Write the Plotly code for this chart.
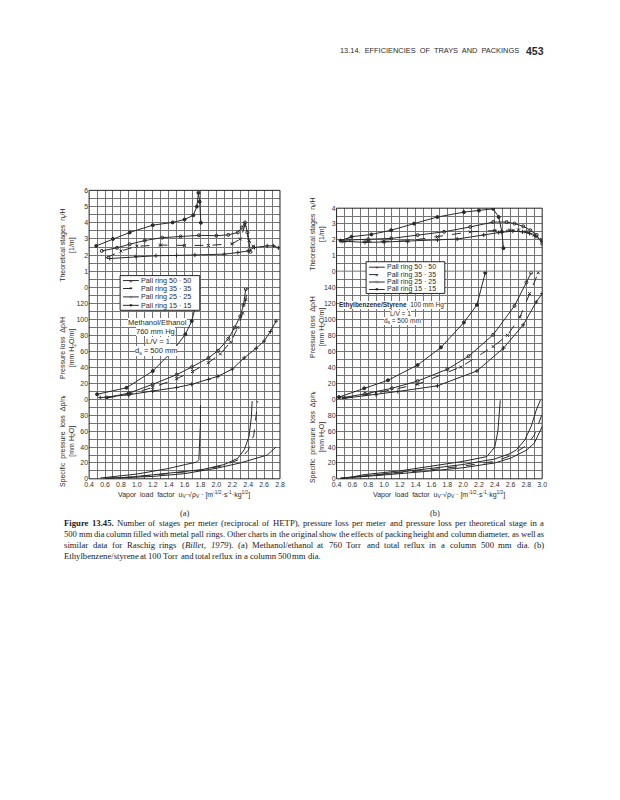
import re
import plotly.graph_objects as go

# ---------------- data ----------------
ring_labels = ["Pall ring 50 · 50", "Pall ring 35 · 35", "Pall ring 25 · 25", "Pall ring 15 · 15"]
x_ticks_a = [0.4, 0.6, 0.8, 1.0, 1.2, 1.4, 1.6, 1.8, 2.0, 2.2, 2.4, 2.6, 2.8]
x_ticks_b = [0.4, 0.6, 0.8, 1.0, 1.2, 1.4, 1.6, 1.8, 2.0, 2.2, 2.4, 2.6, 2.8, 3.0]
y_ticks_a_top = [0, 1, 2, 3, 4, 5, 6]
y_ticks_b_top = [0, 1, 2, 3, 4]
y_ticks_a_mid = [0, 20, 40, 60, 80, 100, 120]
y_ticks_b_mid = [0, 20, 40, 60, 80, 100, 120, 140]
y_ticks_bot = [0, 20, 40, 60, 80]

# (a) Methanol/Ethanol - theoretical stages per metre
a_st_x_50 = [0.66, 0.99, 1.24, 1.5, 1.73, 2.1, 2.27, 2.4, 2.48, 2.64, 2.72, 2.78]
a_st_y_50 = [1.79, 1.91, 1.96, 1.98, 2.0, 2.06, 2.16, 2.26, 2.47, 2.57, 2.57, 2.45]
a_st_x_35 = [0.62, 0.8, 1.0, 1.3, 1.6, 1.9, 2.2, 2.3, 2.36, 2.41, 2.46]
a_st_y_35 = [1.85, 2.25, 2.55, 2.62, 2.6, 2.6, 2.7, 3.0, 3.85, 2.9, 2.55]
a_st_x_25 = [0.56, 0.75, 0.91, 1.1, 1.32, 1.55, 1.78, 2.0, 2.15, 2.27, 2.32, 2.36, 2.39, 2.43]
a_st_y_25 = [2.26, 2.45, 2.67, 2.9, 3.08, 3.15, 3.22, 3.2, 3.25, 3.4, 3.7, 4.02, 3.4, 2.2]
a_st_x_15 = [0.49, 0.7, 0.91, 1.2, 1.45, 1.6, 1.71, 1.755, 1.775, 1.79, 1.805]
a_st_y_15 = [2.57, 3.0, 3.4, 3.85, 4.02, 4.2, 4.46, 5.0, 5.85, 5.3, 4.0]

# (a) pressure loss per metre
a_dp_x_50 = [0.54, 0.9, 1.2, 1.5, 1.69, 1.9, 2.02, 2.2, 2.35, 2.5, 2.6, 2.68, 2.75]
a_dp_y_50 = [2.3, 6, 10.6, 15, 19, 25, 29, 38, 52, 64, 73, 85, 98]
a_dp_x_35 = [0.62, 0.9, 1.2, 1.5, 1.7, 1.9, 2.05, 2.18, 2.27, 2.33, 2.37, 2.39]
a_dp_y_35 = [2.0, 6.5, 15, 26, 35, 46, 57, 72, 90, 108, 125, 140]
a_dp_x_25 = [0.62, 0.9, 1.2, 1.5, 1.69, 1.9, 2.02, 2.15, 2.23, 2.3, 2.34, 2.37]
a_dp_y_25 = [2.3, 8, 19, 31, 40.6, 52, 61, 76, 90, 104, 118, 138]
a_dp_x_15 = [0.5, 0.87, 1.2, 1.45, 1.61, 1.69, 1.755, 1.78]
a_dp_y_15 = [6.5, 14.7, 35.6, 60.6, 81.5, 98, 123, 140]

# (a) specific pressure loss per theoretical stage
a_sp_x_50 = [0.6, 0.9, 1.2, 1.6, 2.02, 2.3, 2.44, 2.64, 2.75]
a_sp_y_50 = [0.5, 1.5, 3, 6.5, 13.7, 20, 24, 30, 40]
a_sp_x_35 = [0.6, 0.9, 1.2, 1.5, 1.82, 2.1, 2.3, 2.4, 2.47, 2.5, 2.52]
a_sp_y_35 = [0.5, 2, 4.5, 7.5, 11, 17, 25, 36, 55, 80, 98]
a_sp_x_25 = [0.6, 0.9, 1.2, 1.5, 1.82, 2.1, 2.27, 2.35, 2.41, 2.44, 2.45]
a_sp_y_25 = [0.5, 2, 5, 8, 11.6, 18, 26, 36.6, 53, 78, 98]
a_sp_x_15 = [0.54, 0.8, 1.0, 1.2, 1.4, 1.61, 1.75, 1.78, 1.79, 1.8, 1.8]
a_sp_y_15 = [1, 3.5, 6, 9.5, 13, 18, 21, 24, 40, 70, 93]

# (b) Ethylbenzene/Styrene - theoretical stages per metre
b_st_x_50 = [0.47, 0.76, 1.0, 1.3, 1.675, 1.925, 2.26, 2.45, 2.63, 2.75, 2.84, 2.92, 3.0]
b_st_y_50 = [1.9, 1.83, 1.85, 1.9, 1.98, 2.04, 2.3, 2.45, 2.54, 2.5, 2.4, 2.2, 1.88]
b_st_x_35 = [0.5, 0.8, 1.0, 1.3, 1.675, 2.09, 2.4, 2.59, 2.7, 2.8, 2.9, 3.0]
b_st_y_35 = [1.9, 1.88, 1.9, 1.92, 2.19, 2.5, 2.58, 2.6, 2.62, 2.5, 2.3, 2.0]
b_st_x_25 = [0.55, 0.8, 1.09, 1.425, 1.76, 2.09, 2.38, 2.55, 2.65, 2.76, 2.85, 2.93, 3.0]
b_st_y_25 = [1.98, 2.02, 2.08, 2.29, 2.5, 2.81, 3.12, 3.12, 3.02, 2.85, 2.6, 2.3, 1.75]
b_st_x_15 = [0.45, 0.59, 0.84, 1.09, 1.38, 1.675, 2.01, 2.2, 2.38, 2.45, 2.49, 2.51]
b_st_y_15 = [1.94, 2.19, 2.33, 2.6, 3.02, 3.44, 3.75, 3.85, 3.96, 3.44, 2.5, 1.46]

# (b) pressure loss per metre
b_dp_x_50 = [0.5, 0.9, 1.175, 1.675, 2.175, 2.51, 2.76, 2.925, 3.0]
b_dp_y_50 = [1.5, 6, 10, 17, 35.6, 64, 93, 121.6, 132]
b_dp_x_35 = [0.5, 0.9, 1.425, 1.97, 2.38, 2.56, 2.72, 2.84, 2.95]
b_dp_y_35 = [2, 8, 19, 40.5, 66, 80, 103, 132, 158]
b_dp_x_25 = [0.46, 0.76, 1.1, 1.425, 1.8, 2.07, 2.38, 2.65, 2.8, 2.86]
b_dp_y_25 = [2, 7, 14, 23, 37.7, 54, 80.7, 116.7, 146, 158]
b_dp_x_15 = [0.43, 0.75, 1.05, 1.425, 1.72, 2.01, 2.175, 2.28]
b_dp_y_15 = [3, 14, 24, 43, 65, 96, 118, 158]

# (b) specific pressure loss per theoretical stage
b_sp_x_50 = [0.45, 0.8, 1.2, 1.6, 2.0, 2.4, 2.6, 2.8, 2.9, 3.0]
b_sp_y_50 = [0.5, 3, 6.5, 10, 14, 20, 26, 36, 45, 66]
b_sp_x_35 = [0.45, 0.8, 1.2, 1.6, 2.0, 2.4, 2.6, 2.8, 2.9, 3.0]
b_sp_y_35 = [0.5, 3.5, 7.5, 11.5, 16, 22, 29, 42, 55, 82]
b_sp_x_25 = [0.45, 0.8, 1.2, 1.6, 2.0, 2.4, 2.6, 2.675, 2.78, 2.86, 2.925, 2.98]
b_sp_y_25 = [1, 4, 8.5, 13, 18, 25, 32, 36.6, 49, 66, 86.6, 100]
b_sp_x_15 = [0.47, 0.76, 1.2, 1.59, 2.0, 2.3, 2.4, 2.44, 2.46, 2.47]
b_sp_y_15 = [0, 5.4, 10, 16, 22, 28, 40, 60, 85, 99]

caption_lines = [
    '<b>Figure</b> <b>13.45.</b> Number of stages per meter (reciprocal of HETP), pressure loss per meter and pressure loss per theoretical stage in a',
    '500 mm dia column filled with metal pall rings. Other charts in the original show the effects of packing height and column diameter, as well as',
    'similar data for Raschig rings (<i>Billet,</i> <i>1979</i>). (a) Methanol/ethanol at 760 Torr and total reflux in a column 500 mm dia. (b)',
    'Ethylbenzene/styrene at 100 Torr and total reflux in a column 500 mm dia.',
]

# ---------------- layout helpers ----------------
W, H = 620, 800
def PX(x):
    return x / W
def PY(y):
    return 1 - y / H

GRID = '#747474'
FRAME = '#222222'
INK = '#2a2a2a'
SANS = 'Liberation Sans, Arial, sans-serif'
SERIF = 'Liberation Serif, Times New Roman, serif'
TICKFONT = dict(family=SANS, size=7, color='#333333')

A_L, A_R, B_L, B_R = 85.5, 279.5, 337, 546
A_T, A_S, B_T, B_S, MB, BB = 188, 286, 206, 269.5, 399, 479
A_X = [PX(A_L), PX(A_R)]
B_X = [PX(B_L), PX(B_R)]
BOT = [PY(BB), PY(MB)]
A_MID = [PY(MB), PY(A_S)]
A_TOP = [PY(A_S), PY(A_T)]
B_MID = [PY(MB), PY(B_S)]
B_TOP = [PY(B_S), PY(B_T)]

def xax(domain, rng, anchor, labels, tickvals, match=None):
    d = dict(domain=domain, range=rng, anchor=anchor,
             tickmode='array', tickvals=tickvals,
             ticktext=['%.1f' % v for v in tickvals],
             showticklabels=labels, ticks='',
             showgrid=True, gridcolor=GRID, gridwidth=1,
             minor=dict(tickmode='linear', tick0=0.4, dtick=0.1, showgrid=True,
                        gridcolor=GRID, gridwidth=1, ticks=''),
             showline=False, zeroline=False, tickfont=TICKFONT, fixedrange=True)
    if match:
        d['matches'] = match
    return d

def yax(domain, rng, anchor, tickvals, minor_dtick):
    return dict(domain=domain, range=rng, anchor=anchor,
                tickmode='array', tickvals=tickvals,
                ticktext=[str(v) for v in tickvals], ticks='',
                showgrid=True, gridcolor=GRID, gridwidth=1,
                minor=dict(tickmode='linear', tick0=0, dtick=minor_dtick, showgrid=True,
                           gridcolor=GRID, gridwidth=1, ticks=''),
                showline=False, zeroline=False, tickfont=TICKFONT, fixedrange=True)

dashes = ['solid', 'dash', 'solid', 'solid']
symbols = ['cross-thin-open', 'x-thin-open', 'circle-open', 'circle']
glyphs = ['+', '×', '○', '●']

fig = go.Figure()

def add_group(xs, ys, xa, ya, markers):
    for i, (x, y) in enumerate(zip(xs, ys)):
        fig.add_trace(go.Scatter(
            x=x, y=y, xaxis=xa, yaxis=ya, name=ring_labels[i],
            mode='lines+markers' if markers else 'lines',
            line=dict(color=INK, width=1, dash=dashes[i]),
            marker=dict(symbol=symbols[i], size=3, color=INK, line=dict(color=INK, width=1)),
            showlegend=False, hoverinfo='skip', cliponaxis=True))

add_group([a_sp_x_50, a_sp_x_35, a_sp_x_25, a_sp_x_15],
          [a_sp_y_50, a_sp_y_35, a_sp_y_25, a_sp_y_15], 'x', 'y', False)
add_group([a_dp_x_50, a_dp_x_35, a_dp_x_25, a_dp_x_15],
          [a_dp_y_50, a_dp_y_35, a_dp_y_25, a_dp_y_15], 'x2', 'y2', True)
add_group([a_st_x_50, a_st_x_35, a_st_x_25, a_st_x_15],
          [a_st_y_50, a_st_y_35, a_st_y_25, a_st_y_15], 'x3', 'y3', True)
add_group([b_sp_x_50, b_sp_x_35, b_sp_x_25, b_sp_x_15],
          [b_sp_y_50, b_sp_y_35, b_sp_y_25, b_sp_y_15], 'x4', 'y4', False)
add_group([b_dp_x_50, b_dp_x_35, b_dp_x_25, b_dp_x_15],
          [b_dp_y_50, b_dp_y_35, b_dp_y_25, b_dp_y_15], 'x5', 'y5', True)
add_group([b_st_x_50, b_st_x_35, b_st_x_25, b_st_x_15],
          [b_st_y_50, b_st_y_35, b_st_y_25, b_st_y_15], 'x6', 'y6', True)

fig.update_layout(
    width=W, height=H, autosize=False,
    margin=dict(l=0, r=0, t=0, b=0),
    paper_bgcolor='white', plot_bgcolor='white',
    showlegend=False,
    xaxis=xax(A_X, [0.4, 2.8], 'y', True, x_ticks_a),
    xaxis2=xax(A_X, [0.4, 2.8], 'y2', False, x_ticks_a, 'x'),
    xaxis3=xax(A_X, [0.4, 2.8], 'y3', False, x_ticks_a, 'x'),
    xaxis4=xax(B_X, [0.4, 3.0], 'y4', True, x_ticks_b),
    xaxis5=xax(B_X, [0.4, 3.0], 'y5', False, x_ticks_b, 'x4'),
    xaxis6=xax(B_X, [0.4, 3.0], 'y6', False, x_ticks_b, 'x4'),
    yaxis=yax(BOT, [0, 100], 'x', y_ticks_bot, 10),
    yaxis2=yax(A_MID, [0, 140], 'x2', y_ticks_a_mid, 10),
    yaxis3=yax(A_TOP, [0, 6], 'x3', y_ticks_a_top, 0.5),
    yaxis4=yax(BOT, [0, 100], 'x4', y_ticks_bot, 10),
    yaxis5=yax(B_MID, [0, 160], 'x5', y_ticks_b_mid, 10),
    yaxis6=yax(B_TOP, [0, 4], 'x6', y_ticks_b_top, 0.5),
)

ann = []
shapes = []

# panel frames: dark outer border, inner subplot boundaries as grid lines
for (l, r, t, s) in [(A_L, A_R, A_T, A_S), (B_L, B_R, B_T, B_S)]:
    for yy in (s, MB):
        shapes.append(dict(type='line', xref='paper', yref='paper', x0=PX(l), x1=PX(r),
                           y0=PY(yy), y1=PY(yy), layer='above',
                           line=dict(color=GRID, width=1)))
    shapes.append(dict(type='rect', xref='paper', yref='paper', x0=PX(l), x1=PX(r),
                       y0=PY(BB), y1=PY(t), layer='above',
                       line=dict(color=FRAME, width=1)))

def text(x, y, s, size=7, family=SANS, color=INK, xanchor='center', angle=0, bg=None):
    d = dict(x=PX(x), y=PY(y), xref='paper', yref='paper', text=s, showarrow=False,
             font=dict(family=family, size=size, color=color), xanchor=xanchor,
             yanchor='middle', textangle=angle, align='center', borderpad=0, borderwidth=0)
    if bg:
        d['bgcolor'] = bg
    ann.append(d)

# y-axis titles (two lines, rotated)
for x0, ys in [(64, [(243, 'Theoretical stages  n<sub>t</sub>/H<br>[1/m]'),
                     (347, 'Pressure loss  Δp/H<br>[mm H<sub>2</sub>O/m]'),
                     (441, 'Specific  pressure  loss  Δp/n<sub>t</sub><br>[mm H<sub>2</sub>O]')]),
               (318, [(232, 'Theoretical stages  n<sub>t</sub>/H<br>[1/m]'),
                      (326, 'Pressure loss  Δp/H<br>[mm H<sub>2</sub>O/m]'),
                      (437, 'Specific  pressure  loss  Δp/n<sub>t</sub><br>[mm H<sub>2</sub>O]')])]:
    for yy, s in ys:
        text(x0, yy, s, size=7, angle=-90)

# x-axis titles and panel labels
xtitle = 'Vapor  load  factor  u<sub>V</sub>·√ρ<sub>V</sub> · [m<sup>-1/2</sup>·s<sup>-1</sup>·kg<sup>1/2</sup>]'
text(182, 495, xtitle, size=7)
text(441, 495, xtitle, size=7)
text(183, 513, '(a)', size=8.5, family=SERIF)
text(437, 513, '(b)', size=8.5, family=SERIF)

# legends (drawn as boxes with sample lines)
def legend_box(x0, x1, y0, y1, rows, lx0, lx1, tx, fs):
    shapes.append(dict(type='rect', xref='paper', yref='paper', x0=PX(x0), x1=PX(x1),
                       y0=PY(y1), y1=PY(y0), fillcolor='white',
                       line=dict(color=FRAME, width=1), layer='above'))
    for i, ry in enumerate(rows):
        shapes.append(dict(type='line', xref='paper', yref='paper', x0=PX(lx0), x1=PX(lx1),
                           y0=PY(ry), y1=PY(ry), layer='above',
                           line=dict(color=INK, width=1, dash=dashes[i])))
        text((lx0 + lx1) / 2, ry, glyphs[i], size=6)
        text(tx, ry, ring_labels[i], size=fs, xanchor='left')

legend_box(117, 198, 274, 309, [279, 287, 295.5, 304], 120, 136, 138, 7.2)
legend_box(367, 447, 260, 292, [265.5, 273, 280.5, 288], 370, 386, 388, 7.0)

# system annotations
text(155, 321, 'Methanol/Ethanol', size=7.5, bg='white')
text(153, 330, '760 mm Hg', size=7.5, bg='white')
text(155, 340, 'L/V = 1', size=7.5, bg='white')
text(153, 350, 'd<sub>s</sub> = 500 mm', size=7.5, bg='white')
text(339, 304, '<b>Ethylbenzene/Styrene</b>  100 mm Hg', size=6.5, bg='white', xanchor='left')
text(402, 312.5, 'L/V = 1', size=6.5, bg='white')
text(404, 320, 'd<sub>s</sub> = 500 mm', size=6.5, bg='white')

# page header
text(522, 47, '13.14.  EFFICIENCIES  OF  TRAYS  AND  PACKINGS', size=7.4, xanchor='right')
text(548, 47, '<b>453</b>', size=10.5, xanchor='right')

# caption: justified with Times (Liberation Serif) advance widths
TW = {' ': 250, '!': 333, '(': 333, ')': 333, ',': 250, '-': 333, '.': 250, '/': 278,
      ':': 278, ';': 278, 'A': 722, 'B': 667, 'C': 667, 'D': 722, 'E': 611, 'F': 556,
      'G': 722, 'H': 722, 'I': 333, 'J': 389, 'K': 722, 'L': 611, 'M': 889, 'N': 722,
      'O': 722, 'P': 556, 'Q': 722, 'R': 667, 'S': 556, 'T': 611, 'U': 722, 'V': 722,
      'W': 944, 'X': 722, 'Y': 722, 'Z': 611, 'a': 444, 'b': 500, 'c': 444, 'd': 500,
      'e': 444, 'f': 333, 'g': 500, 'h': 500, 'i': 278, 'j': 278, 'k': 500, 'l': 278,
      'm': 778, 'n': 500, 'o': 500, 'p': 500, 'q': 500, 'r': 333, 's': 389, 't': 278,
      'u': 500, 'v': 500, 'w': 722, 'x': 500, 'y': 500, 'z': 444}
def tw(word, size):
    plain = re.sub('<[^>]+>', '', word)
    bold = word.startswith('<b>')
    w = 0
    for ch in plain:
        c = TW.get(ch, 500)
        if bold and ch.islower():
            c += 40
        w += c
    return w * size / 1000.0

CAP_SIZE = 8.7
CAP_L, CAP_R = 60, 548
MIN_GAP = 2.0
for li, line in enumerate(caption_lines):
    words = line.split(' ')
    size = CAP_SIZE
    natural = sum(tw(w, size) for w in words) + (len(words) - 1) * MIN_GAP
    if natural > CAP_R - CAP_L:
        size = size * (CAP_R - CAP_L) / natural * 0.995
    widths = [tw(w, size) for w in words]
    if li < len(caption_lines) - 1:
        gap = (CAP_R - CAP_L - sum(widths)) / (len(words) - 1)
    else:
        gap = 250 * size / 1000.0
    xcur = CAP_L
    for w, wd in zip(words, widths):
        text(xcur, 524 + 11 * li, w, size=size, family=SERIF, color='#1a1a1a', xanchor='left')
        xcur += wd + gap

fig.update_layout(annotations=ann, shapes=shapes)
fig.write_html('out.html', config={'displayModeBar': False},
               post_script="document.body.style.margin='0px';")
